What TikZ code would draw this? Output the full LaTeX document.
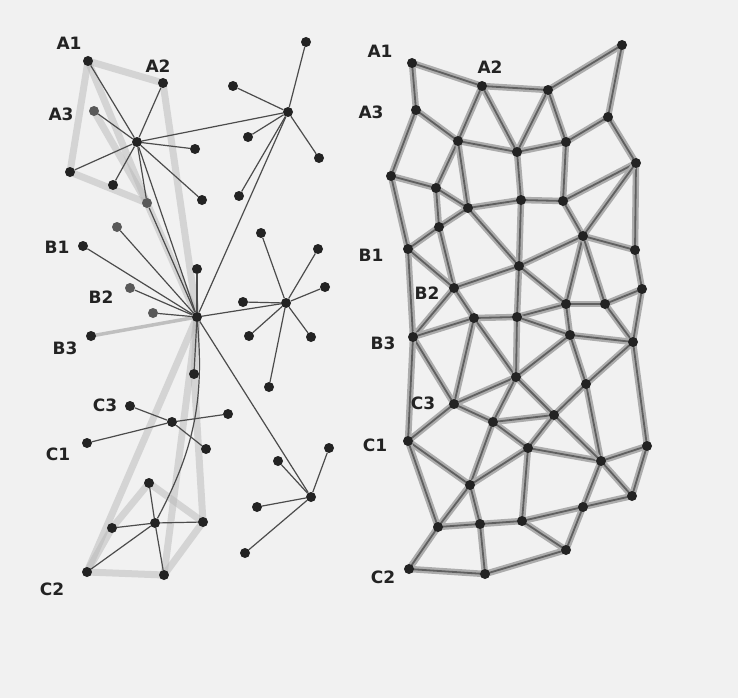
\documentclass[tikz,border=0pt]{standalone}
\usepackage{fontspec}
\setsansfont{DejaVu Sans}
\usetikzlibrary{backgrounds}
\definecolor{paper}{RGB}{241,241,241}
\definecolor{ink}{RGB}{35,35,35}
\begin{document}
\begin{tikzpicture}[x=1pt,y=-1pt,
    dot/.style={circle,fill=ink,inner sep=0pt,minimum size=10pt},
    faint/.style={dot,fill=gray!70!black},
    lab/.style={font=\sffamily\bfseries\fontsize{17}{17}\selectfont,text=ink,inner sep=0pt},
    spoke/.style={draw=gray!60!black,line width=1.2pt},
    band/.style={draw=gray!55,line width=7pt,line cap=round,opacity=0.5},
    meshbase/.style={draw=gray!65,line width=6.5pt,line cap=round},
    mesh/.style={draw=gray!75!black,line width=1.8pt}]
    % left graph: hubs and their leaves
    \foreach \n/\x/\y in {a1/88/61,a2/163/83,h1/137/142,p1/195/149,p2/70/172,p3/113/185,p5/202/200,
        p6/306/42,p7/233/86,h2/288/112,p8/248/137,p9/319/158,p10/239/196,
        b1/83/246,p12/197/269,b3/91/336,h3/197/317,p14/194/374,
        p15/261/233,p16/318/249,p17/325/287,p18/243/302,h4/286/303,p19/249/336,p20/311/337,p21/269/387,
        c3/130/406,h5/172/422,p22/228/414,c1/87/443,p23/206/449,
        p24/149/483,p25/112/528,h6/155/523,p26/203/522,c2/87/572,p27/164/575,
        p28/329/448,p29/278/461,h7/311/497,p30/257/507,p31/245/553}
        \node[dot] (\n) at (\x,\y) {};
    \foreach \n/\x/\y in {a3/94/111,p4/147/203,p11/117/227,b2/130/288,p13/153/313}
        \node[faint] (\n) at (\x,\y) {};
    % right graph: the mesh
    \foreach \n/\x/\y in {ra1/412/63,ra2/482/86,r3/548/90,r4/622/45,ra3/416/110,r6/458/141,r7/517/152,
        r8/566/142,r9/608/117,r10/636/163,r11/391/176,r12/436/188,r13/468/208,r14/521/200,r15/563/201,
        r16/439/227,rb1/408/249,r18/519/266,r19/583/236,r20/635/250,rb2/454/288,r22/474/318,r23/517/317,
        r24/566/304,r25/605/304,r26/642/289,rb3/413/337,r28/570/335,r29/633/342,r30/516/377,r31/586/384,
        rc3/454/404,r33/493/422,r34/554/415,rc1/408/441,r36/528/448,r37/601/461,r38/647/446,r39/470/485,
        r40/632/496,r41/438/527,r42/480/524,r43/522/521,r44/583/507,rc2/409/569,r46/485/574,r47/566/550}
        \node[dot] (\n) at (\x,\y) {};
    % labels
    \foreach \n/\x/\y/\t in {la1/69/43/A1,la2/158/66/A2,la3/61/114/A3,lb1/57/247/B1,lb2/101/297/B2,
        lb3/65/348/B3,lc3/105/405/C3,lc1/58/454/C1,lc2/52/589/C2,
        ma1/380/51/A1,ma2/490/67/A2,ma3/371/112/A3,mb1/371/255/B1,mb2/427/293/B2,mb3/383/343/B3,
        mc3/423/403/C3,mc1/375/445/C1,mc2/383/577/C2}
        \node[lab] (\n) at (\x,\y) {\t};
    \begin{pgfonlayer}{background}
        \fill[paper] (0,0) rectangle (738,698);
        % shaded groups
        \foreach \a/\b in {a1/a2,a1/p2,p2/p4,a1/p4,a3/p4,a2/h3,p4/h3,
            h3/c2,h3/p27,h3/p14,p14/p26,c2/p27,c2/p25,p25/p24,p24/p26,p27/p26}
            \draw[band] (\a.center) -- (\b.center);
        \draw[draw=gray!50,line width=3.5pt,line cap=round] (b3.center) -- (h3.center);
        % spokes
        \foreach \a/\b in {h1/a1,h1/a2,h1/a3,h1/p1,h1/p2,h1/p3,h1/p4,h1/p5,h1/h2,h1/h3,p4/h3,
            h2/p6,h2/p7,h2/p8,h2/p9,h2/p10,h2/h3,
            h3/p11,h3/b1,h3/p12,h3/b2,h3/p13,h3/p14,h3/h4,h3/h7,
            h4/p15,h4/p16,h4/p17,h4/p18,h4/p19,h4/p20,h4/p21,
            h5/c3,h5/p22,h5/c1,h5/p23,
            h6/p24,h6/p25,h6/p26,h6/p27,h6/c2,
            h7/p28,h7/p29,h7/p30,h7/p31}
            \draw[spoke] (\a) -- (\b);
        \draw[spoke] (h3) to[out=-85,in=62] (h6);
        % mesh edges
        \foreach \a/\b in {ra1/ra2,ra2/r3,r3/r4,ra1/ra3,ra3/r6,ra3/r11,r6/ra2,ra2/r7,r6/r7,r3/r7,r3/r8,
            r4/r9,r9/r8,r9/r10,r7/r8,r6/r12,r6/r13,r11/r12,r12/r13,r13/r14,r7/r14,r8/r15,r14/r15,
            r15/r10,r10/r20,r10/r19,r15/r19,r11/rb1,r12/r16,r13/r16,r16/rb1,r16/rb2,r13/r18,r14/r18,
            rb1/rb2,rb1/rb3,rb2/r18,rb2/r22,rb2/rb3,rb3/r22,r22/r23,r18/r23,r18/r19,r18/r24,r19/r24,
            r19/r25,r19/r20,r20/r26,r24/r25,r25/r26,r23/r24,r23/r28,r24/r28,r25/r29,r26/r29,r28/r29,
            r22/r30,r22/rc3,rb3/rc3,rb3/rc1,r23/r30,r30/rc3,r30/r28,r28/r31,r29/r31,r29/r38,
            rc3/r33,rc3/rc1,r33/r30,r33/r34,r33/r36,r33/r39,rc1/r39,rc1/r41,r39/r36,r39/r41,r39/r42,
            r41/r42,r42/r43,r36/r43,r41/rc2,rc2/r46,r42/r46,r46/r47,r36/r37,r43/r44,r30/r34,r31/r34,
            r31/r37,r34/r36,r34/r37,r38/r37,r38/r40,r37/r40,r37/r44,r40/r44,r43/r47,r44/r47}
            {\draw[meshbase] (\a.center) -- (\b.center);
             \draw[mesh] (\a.center) -- (\b.center);}
    \end{pgfonlayer}
\end{tikzpicture}
\end{document}
